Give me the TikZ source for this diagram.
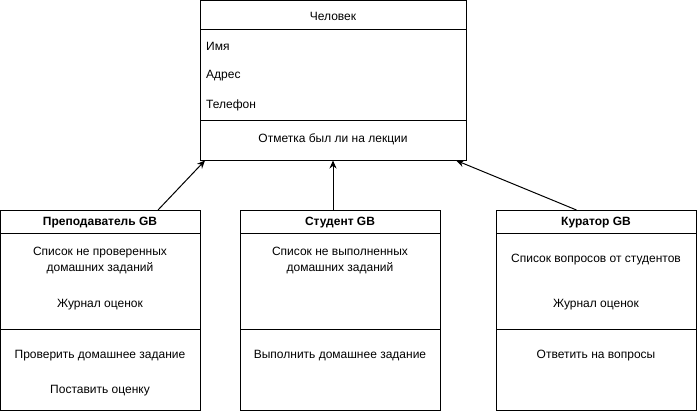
\documentclass[tikz,border=0pt]{standalone}
\usepackage{fontspec}
\setmainfont{Liberation Sans}
\usetikzlibrary{arrows.meta}

\tikzset{
  umlbox/.style={draw, line width=1pt, rectangle, inner sep=0pt},
  member/.style={font=\fontsize{12}{16}\selectfont, align=center, inner sep=0pt},
  attr/.style={member, anchor=west, align=left},
  headline/.style={member, font=\fontsize{12}{16}\selectfont\bfseries},
  inherit/.style={-{Stealth[length=8pt,width=7pt]}, line width=1pt},
}

\begin{document}
\begin{tikzpicture}[x=1pt, y=-1pt]
  \useasboundingbox (0,0) rectangle (699,412);

  % Draw the parent class
  \node[umlbox, minimum width=266pt, minimum height=159pt] (chel) at (333,80.5) {};
  \node[member] (chelT) at (333,16) {Человек};
  \draw[line width=1pt] (200,30) -- (466,30);
  \node[attr] (imya) at (206,46) {Имя};
  \node[attr] (adres) at (206,75.5) {Адрес};
  \node[attr] (tel) at (206,105) {Телефон};
  \draw[line width=1pt] (200,120.5) -- (466,120.5);
  \node[member] (otm) at (333,139.5) {Отметка был ли на лекции};

  % Draw the child classes
  \node[umlbox, minimum width=200pt, minimum height=200pt] (prep) at (100,310.5) {};
  \node[umlbox, minimum width=200pt, minimum height=200pt] (stud) at (340,310.5) {};
  \node[umlbox, minimum width=200pt, minimum height=200pt] (kur) at (596,310.5) {};

  % Draw the dividers inside the child classes
  \draw[line width=1pt] (0,233) -- (200,233);
  \draw[line width=1pt] (0,329.5) -- (200,329.5);
  \draw[line width=1pt] (240,233) -- (440,233);
  \draw[line width=1pt] (240,329.5) -- (440,329.5);
  \draw[line width=1pt] (496,233) -- (696,233);
  \draw[line width=1pt] (496,329.5) -- (696,329.5);

  % Teacher
  \node[headline] (prepT) at (100,222.5) {Преподаватель GB};
  \node[member] (prepA) at (100,261) {Список не проверенных\\домашних заданий};
  \node[member] (prepB) at (100,304.5) {Журнал оценок};
  \node[member] (prepC) at (100,355.5) {Проверить домашнее задание};
  \node[member] (prepD) at (100,390.5) {Поставить оценку};

  % Student
  \node[headline] (studT) at (340,222.5) {Студент GB};
  \node[member] (studA) at (340,261) {Список не выполненных\\домашних заданий};
  \node[member] (studB) at (340,355.5) {Выполнить домашнее задание};

  % Curator
  \node[headline] (kurT) at (596,222.5) {Куратор GB};
  \node[member] (kurA) at (596,260) {Список вопросов от студентов};
  \node[member] (kurB) at (596,305) {Журнал оценок};
  \node[member] (kurC) at (596,355.5) {Ответить на вопросы};

  % Draw the inheritance arrows
  \draw[inherit] (prep.60) -- (chel.212);
  \draw[inherit] (stud.north -| chel.south) -- (chel.south);
  \draw[inherit] (kur.101) -- (chel.-33);
\end{tikzpicture}
\end{document}
